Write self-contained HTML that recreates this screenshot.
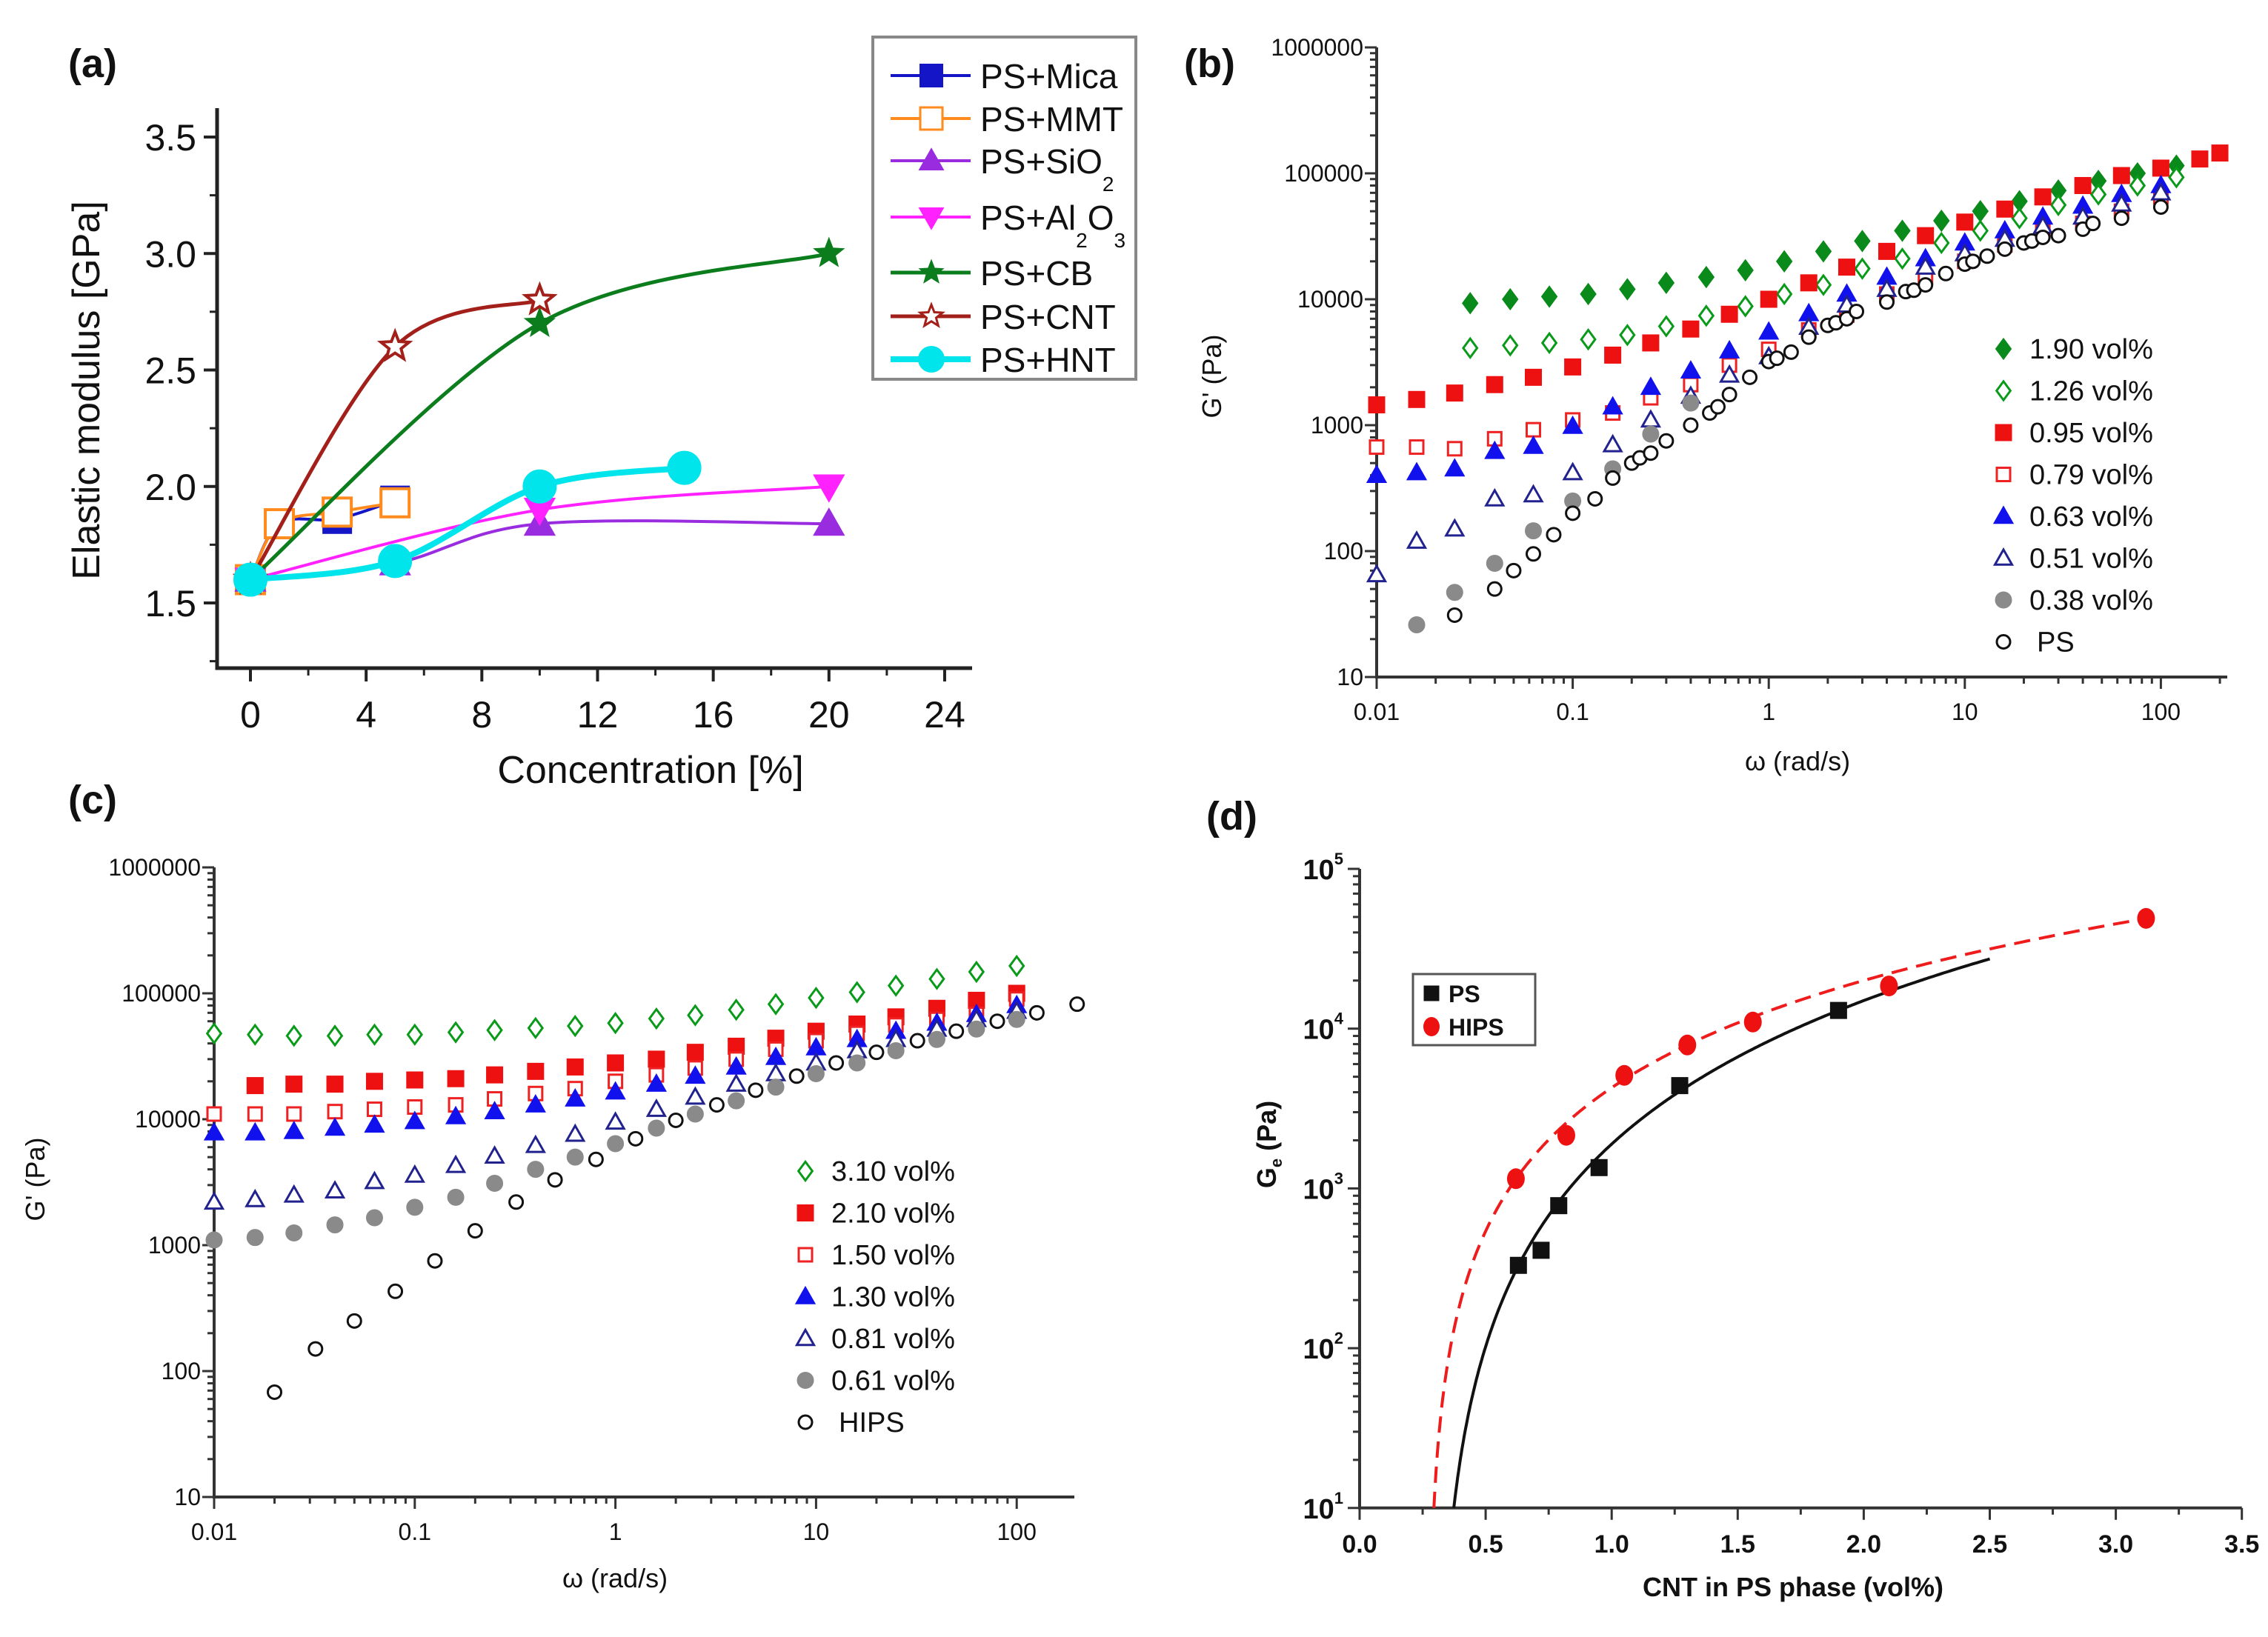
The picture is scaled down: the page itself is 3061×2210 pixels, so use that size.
<!DOCTYPE html>
<html><head><meta charset="utf-8"><style>
html,body{margin:0;padding:0;background:#fff}
svg{display:block}
text{font-family:"Liberation Sans",Arial,sans-serif;fill:#111}
</style></head><body>
<svg id="fig" width="3061" height="2210" viewBox="0 0 3061 2210" xmlns="http://www.w3.org/2000/svg">
<rect width="3061" height="2210" fill="#fff"/>
</svg>
<script>
// ---------- Panel (a) data ----------
const aMicaX=[0,1,3,5], aMicaY=[1.6,1.84,1.86,1.94];
const aMmtX=[0,1,3,5], aMmtY=[1.6,1.84,1.89,1.93];
const aSiX=[0,5,10,20], aSiY=[1.6,1.67,1.84,1.84];
const aAlX=[0,10,20], aAlY=[1.6,1.9,2.0];
const aCbX=[0,10,20], aCbY=[1.6,2.7,3.0];
const aCntX=[0,5,10], aCntY=[1.6,2.6,2.8];
const aHntX=[0,5,10,15], aHntY=[1.6,1.68,2.0,2.08];
const aXTicks=[0,4,8,12,16,20,24];
const aYTicks=[1.5,2.0,2.5,3.0,3.5];
const aYTickLabels=["1.5","2.0","2.5","3.0","3.5"];
const aLegendLabels=["PS+Mica","PS+MMT","PS+SiO2","PS+Al2O3","PS+CB","PS+CNT","PS+HNT"];
// ---------- Panel (b) data ----------
const bW1=[0.03,0.048,0.076,0.12,0.19,0.3,0.48,0.76,1.2,1.9,3,4.8,7.6,12,19,30,48,76,120];
const b190=[9300,10000,10500,11000,12000,13500,15000,17000,20000,24000,29000,35000,42000,50000,60000,73000,87000,100000,115000];
const b126=[4100,4300,4500,4800,5200,6100,7400,8800,11000,13000,17500,21000,28000,35000,44000,56000,68000,80000,93000];
const bW2=[0.01,0.016,0.025,0.04,0.063,0.1,0.16,0.25,0.4,0.63,1,1.6,2.5,4,6.3,10,16,25,40,63,100,158,200];
const b095=[1450,1600,1800,2100,2400,2900,3600,4500,5800,7600,10000,13500,18000,24000,32000,41000,52000,65000,80000,96000,110000,130000,145000];
const bW3=[0.01,0.016,0.025,0.04,0.063,0.1,0.16,0.25,0.4,0.63,1,1.6,2.5,4,6.3,10,16,25,40,63,100];
const b079=[670,670,650,780,920,1100,1250,1650,2100,3000,4000,5700,7500,11000,15000,20000,27000,35000,40000,50000,65000];
const b063=[400,420,450,620,680,980,1400,2000,2700,3900,5500,7700,11000,15000,21000,28000,35000,45000,55000,68000,80000];
const b051=[65,120,150,260,280,420,700,1100,1700,2500,3500,6000,9000,12000,18000,23000,30000,38000,45000,57000,70000];
const bW4=[0.016,0.025,0.04,0.063,0.1,0.16,0.25,0.4];
const b038=[26,47,80,145,250,450,850,1500];
const bW5=[0.025,0.04,0.05,0.063,0.08,0.1,0.13,0.16,0.2,0.22,0.25,0.3,0.4,0.5,0.55,0.63,0.8,1,1.1,1.3,1.6,2,2.2,2.5,2.8,4,5,5.5,6.3,8,10,11,13,16,20,22,25,30,40,45,63,100];
const bPS=[31,50,70,95,135,200,260,380,500,550,600,750,1000,1250,1400,1750,2400,3200,3400,3800,5000,6200,6500,7000,8000,9500,11500,11800,13000,16000,19000,20000,22000,25000,28000,29000,31000,32000,36000,40000,44000,54000];
const logYTicks=[10,100,1000,10000,100000,1000000];
const logYLabels=["10","100","1000","10000","100000","1000000"];
const logXTicks=[0.01,0.1,1,10,100];
const logXLabels=["0.01","0.1","1","10","100"];
const bLegend=["1.90 vol%","1.26 vol%","0.95 vol%","0.79 vol%","0.63 vol%","0.51 vol%","0.38 vol%","PS"];
// ---------- Panel (c) data ----------
const cW=[0.01,0.016,0.025,0.04,0.063,0.1,0.16,0.25,0.4,0.63,1,1.6,2.5,4,6.3,10,16,25,40,63,100];
const c310=[48000,47000,46000,46000,47000,47000,49000,51000,53000,55000,58000,63000,67000,74000,82000,92000,102000,115000,130000,148000,165000];
const cW2=[0.016,0.025,0.04,0.063,0.1,0.16,0.25,0.4,0.63,1,1.6,2.5,4,6.3,10,16,25,40,63,100];
const c210=[18500,19000,19000,20000,20500,21000,22500,24000,26000,28000,30000,34000,38000,44000,50000,57000,65000,76000,88000,100000];
const c150=[11000,11000,11000,11500,12000,12500,13000,14500,16000,17500,20000,22500,25500,30000,36000,42000,48000,56000,62000,68000,90000];
const c130=[7800,7800,8000,8500,9000,9600,10500,11500,13000,14500,16500,19000,22000,26000,31000,37000,43000,50000,58000,68000,80000];
const c081=[2200,2300,2500,2700,3200,3600,4300,5100,6200,7600,9500,12000,15000,19000,23000,28000,35000,43000,52000,62000,72000];
const c061=[1100,1150,1250,1450,1650,2000,2400,3100,4000,5000,6400,8500,11000,14000,18000,23000,28000,35000,43000,52000,62000];
const cWH=[0.02,0.032,0.05,0.08,0.126,0.2,0.32,0.5,0.8,1.26,2,3.2,5,8,12.6,20,32,50,80,126,200];
const cHIPS=[68,150,250,430,750,1300,2200,3300,4800,7000,9800,13000,17000,22000,28000,34000,42000,50000,60000,70000,82000];
const cLegend=["3.10 vol%","2.10 vol%","1.50 vol%","1.30 vol%","0.81 vol%","0.61 vol%","HIPS"];
// ---------- Panel (d) data ----------
const dPSX=[0.63,0.72,0.79,0.95,1.27,1.9], dPSY=[330,410,780,1350,4400,13000];
const dHX=[0.62,0.82,1.05,1.3,1.56,2.1,3.12], dHY=[1150,2150,5100,7900,11000,18500,49000];
const dPSFit=[4350,0.30,2.33,2.5];   // k, phi_c, t, end
const dHFit=[7500,0.27,1.79,3.12];
const dXTicks=[0,0.5,1,1.5,2,2.5,3,3.5];
const dXLabels=["0.0","0.5","1.0","1.5","2.0","2.5","3.0","3.5"];
const dYExp=[1,2,3,4,5];

const NS="http://www.w3.org/2000/svg";
const svg=document.getElementById('fig');
function el(tag,attrs,parent){const e=document.createElementNS(NS,tag);for(const k in attrs)e.setAttribute(k,attrs[k]);(parent||svg).appendChild(e);return e;}
function txt(s,x,y,size,anchor,parent,extra){const t=el('text',Object.assign({x:x,y:y,'font-size':size,'text-anchor':anchor||'middle'},extra||{}),parent);t.textContent=s;return t;}
function grp(name){const g=el('g',{});return g;}

function marker(g,shape,x,y,s,color,filled,sw){
  const f=filled?color:'#fff';const w=sw||Math.max(2,s*0.12);let e;
  const h=s/2;
  if(shape==='square')e=el('rect',{x:x-h,y:y-h,width:s,height:s,fill:f,stroke:color,'stroke-width':w},g);
  else if(shape==='circle')e=el('circle',{cx:x,cy:y,r:h,fill:f,stroke:color,'stroke-width':w},g);
  else if(shape==='diamond')e=el('polygon',{points:`${x},${y-h*1.15} ${x+h*0.85},${y} ${x},${y+h*1.15} ${x-h*0.85},${y}`,fill:f,stroke:color,'stroke-width':w},g);
  else if(shape==='tri')e=el('polygon',{points:`${x},${y-h*1.05} ${x+h*1.05},${y+h*0.8} ${x-h*1.05},${y+h*0.8}`,fill:f,stroke:color,'stroke-width':w},g);
  else if(shape==='dtri')e=el('polygon',{points:`${x},${y+h*1.05} ${x+h*1.05},${y-h*0.8} ${x-h*1.05},${y-h*0.8}`,fill:f,stroke:color,'stroke-width':w},g);
  else if(shape==='star'){let p=[];for(let i=0;i<10;i++){const r=i%2?h*0.45:h*1.05;const a=-Math.PI/2+i*Math.PI/5;p.push((x+r*Math.cos(a)).toFixed(1)+','+(y+r*Math.sin(a)).toFixed(1));}e=el('polygon',{points:p.join(' '),fill:f,stroke:color,'stroke-width':w},g);}
  
  
  return e;
}
function smoothPath(pts){
  if(pts.length<2)return '';
  let d=`M${pts[0][0]},${pts[0][1]}`;
  for(let i=0;i<pts.length-1;i++){
    const p0=pts[i-1]||pts[i],p1=pts[i],p2=pts[i+1],p3=pts[i+2]||p2;
    const c1=[p1[0]+(p2[0]-p0[0])/6,p1[1]+(p2[1]-p0[1])/6];
    const c2=[p2[0]-(p3[0]-p1[0])/6,p2[1]-(p3[1]-p1[1])/6];
    d+=` C${c1[0].toFixed(1)},${c1[1].toFixed(1)} ${c2[0].toFixed(1)},${c2[1].toFixed(1)} ${p2[0].toFixed(1)},${p2[1].toFixed(1)}`;
  }
  return d;
}

// ================= Panel (a) =================
(function(){
  const g=grp('panel-a');
  const X0=293,X1=1312,Y0=902,Y1=146;
  const xs=v=>338+v*39.04, ys=v=>814-(v-1.5)*314.5;
  txt('(a)',92,104,54,'start',g,{'font-weight':'bold'});
  const ax=el('path',{d:`M${X0},${Y1} V${Y0} H${X1}`,fill:'none',stroke:'#222','stroke-width':5},g);
  
  aXTicks.forEach(v=>{el('line',{x1:xs(v),x2:xs(v),y1:Y0,y2:Y0+18,stroke:'#222','stroke-width':4},g);
    if(xs(v+2)<X1)el('line',{x1:xs(v+2),x2:xs(v+2),y1:Y0,y2:Y0+10,stroke:'#222','stroke-width':3},g);
    const t=txt(String(v),xs(v),Y0+80,50,'middle',g);});
  aYTicks.forEach((v,i)=>{el('line',{x1:X0-18,x2:X0,y1:ys(v),y2:ys(v),stroke:'#222','stroke-width':4},g);
    el('line',{x1:X0-10,x2:X0,y1:ys(v-0.25),y2:ys(v-0.25),stroke:'#222','stroke-width':3},g);
    const t=txt(aYTickLabels[i],X0-28,ys(v)+18,50,'end',g);});
  const yl=txt('Elastic modulus [GPa]',0,0,52,'middle',g,{transform:'translate(134,527) rotate(-90)'});
  const xl=txt('Concentration [%]',878,1057,52,'middle',g);
  const series=[
    [aMicaX,aMicaY,'#1515c8','square',true,'series-mica',4],
    [aMmtX,aMmtY,'#ff8a1e','square',false,'series-mmt',4],
    [aSiX,aSiY,'#9a2ce0','tri',true,'series-sio2',4],
    [aAlX,aAlY,'#ff22ff','dtri',true,'series-al2o3',4],
    [aCbX,aCbY,'#0b7d1c','star',true,'series-cb',5],
    [aCntX,aCntY,'#a3201a','star',false,'series-cnt',5],
    [aHntX,aHntY,'#00e4ec','circle',true,'series-hnt',8]];
  series.forEach(s=>{
    const sg=el('g',{},g);
    
    
    const pts=s[0].map((v,i)=>[xs(v),ys(s[1][i])]);
    el('path',{d:smoothPath(pts),fill:'none',stroke:s[2],'stroke-width':s[6]},sg);
    pts.forEach(p=>marker(sg,s[3],p[0],p[1],s[3]==='circle'?44:38,s[2],s[4],s[4]?2:4));
  });
  const lg=el('g',{},g);
  
  
  el('rect',{x:1178,y:50,width:355,height:462,fill:'#fff',stroke:'#888','stroke-width':4},lg);
  const ly=[102,160,217,293,368,427,485];
  series.forEach((s,i)=>{
    const e=el('g',{},lg);
    
    
    el('line',{x1:1202,x2:1310,y1:ly[i],y2:ly[i],stroke:s[2],'stroke-width':s[6]},e);
    marker(e,s[3],1257,ly[i],s[3]==='circle'?34:30,s[2],s[4],s[4]?2:3);
    const t=el('text',{x:1323,y:ly[i]+17,'font-size':46},e);
    const lab=aLegendLabels[i];
    if(lab==='PS+SiO2'){t.textContent='PS+SiO';const sb=el('tspan',{'font-size':28,dy:24},t);sb.textContent='2';}
    else if(lab==='PS+Al2O3'){t.textContent='PS+Al';const a=el('tspan',{'font-size':28,dy:24},t);a.textContent='2';const b=el('tspan',{dy:-24},t);b.textContent='O';const c=el('tspan',{'font-size':28,dy:24},t);c.textContent='3';}
    else t.textContent=lab;
  });
})();

// ============ log panels (b) and (c) ============
function logPanel(name,label,labPos,ox,decX,oy,decY,rightX,legendX,legendY0,legendStep,legendTexts,series,yTitlePos,xTitlePos){
  const g=grp(name);
  const xs=v=>ox+Math.log10(v/0.01)*decX, ys=v=>oy+(6-Math.log10(v))*decY;
  const Y0=ys(10),Y1=ys(1e6);
  const L=txt(label,labPos[0],labPos[1],54,'start',g,{'font-weight':'bold'});
  el('path',{d:`M${ox},${Y1} V${Y0} H${rightX}`,fill:'none',stroke:'#333','stroke-width':4},g);
  for(let d=-2;d<=2;d++){for(let m=1;m<10;m++){const v=m*Math.pow(10,d);const x=xs(v);if(x>rightX+1)break;
    el('line',{x1:x,x2:x,y1:Y0,y2:Y0+(m===1?16:9),stroke:'#333','stroke-width':3},g);}}
  for(let d=1;d<=6;d++){for(let m=1;m<10;m++){const v=m*Math.pow(10,d);if(v>1e6)break;const y=ys(v);
    el('line',{x1:ox-(m===1?16:9),x2:ox,y1:y,y2:y,stroke:'#333','stroke-width':3},g);}}
  logXTicks.forEach((v,i)=>{const t=txt(logXLabels[i],xs(v),Y0+58,32,'middle',g,{fill:'#333'});});
  logYTicks.forEach((v,i)=>{const t=txt(logYLabels[i],ox-18,ys(v)+11,32,'end',g,{fill:'#333'});});
  const yt=txt("G' (Pa)",0,0,36,'middle',g,{transform:`translate(${yTitlePos[0]},${yTitlePos[1]}) rotate(-90)`,fill:'#333'});
  const xt=txt('ω (rad/s)',xTitlePos[0],xTitlePos[1],36,'middle',g,{fill:'#333'});
  series.forEach((s,i)=>{
    const sg=el('g',{},g);
    
    
    s[0].forEach((w,j)=>{const x=xs(w);if(x>rightX+4)return;marker(sg,s[2],x,ys(s[1][j]),s[5]||22,s[3],s[4],3);});
    const e=el('g',{},g);
    
    
    const y=legendY0+i*legendStep;
    marker(e,s[2],legendX,y,s[5]||22,s[3],s[4],3);
    txt(legendTexts[i],legendX+(legendTexts[i].match(/PS/)?45:35),y+13,38,'start',e,{fill:'#333'});
  });
}
logPanel('panel-b','(b)',[1598,104],1858,264.6,64,170,3006,2704,471,56.5,bLegend,[
  [bW1,b190,'diamond','#0a8a1a',true],
  [bW1,b126,'diamond','#0a9a1a',false],
  [bW2,b095,'square','#ee1111',true,20],
  [bW3,b079,'square','#ee2222',false,18],
  [bW3,b063,'tri','#1111ee',true],
  [bW3,b051,'tri','#22228f',false],
  [bW4,b038,'circle','#8a8a8a',true,20],
  [bW5,bPS,'circle','#111',false,18]],[1648,508],[2426,1040]);
logPanel('panel-c','(c)',[92,1098],289,270.8,1171,170,1450,1087,1581,56.5,cLegend,[
  [cW,c310,'diamond','#0a9a1a',false],
  [cW2,c210,'square','#ee1111',true,20],
  [cW,c150,'square','#ee2222',false,18],
  [cW,c130,'tri','#1111ee',true],
  [cW,c081,'tri','#22228f',false],
  [cW,c061,'circle','#8a8a8a',true,20],
  [cWH,cHIPS,'circle','#111',false,18]],[60,1592],[830,2143]);

// ================= Panel (d) =================
(function(){
  const g=grp('panel-d');
  const ox=1835,ux=340.2,top=1173,dec=215.7;
  const xs=v=>ox+v*ux, ys=v=>top+(5-Math.log10(v))*dec;
  const Y0=ys(10),X1=xs(3.5);
  txt('(d)',1628,1120,54,'start',g,{'font-weight':'bold'});
  el('path',{d:`M${ox},${ys(1e5)} V${Y0} H${X1}`,fill:'none',stroke:'#333','stroke-width':4},g);
  dXTicks.forEach((v,i)=>{el('line',{x1:xs(v),x2:xs(v),y1:Y0,y2:Y0+16,stroke:'#333','stroke-width':3},g);
    if(v<3.5)el('line',{x1:xs(v+0.25),x2:xs(v+0.25),y1:Y0,y2:Y0+9,stroke:'#333','stroke-width':3},g);
    const t=txt(dXLabels[i],xs(v),Y0+60,34,'middle',g,{'font-weight':'bold',fill:'#333'});});
  dYExp.forEach(e=>{for(let m=1;m<10;m++){const v=m*Math.pow(10,e);if(v>1e5)break;const y=ys(v);
      el('line',{x1:ox-(m===1?16:9),x2:ox,y1:y,y2:y,stroke:'#333','stroke-width':3},g);}
    const t=el('text',{x:ox-22,y:ys(Math.pow(10,e))+14,'font-size':38,'text-anchor':'end','font-weight':'bold',fill:'#333'},g);
    
    t.textContent='10';const s=el('tspan',{'font-size':22,dy:-20},t);s.textContent=String(e);});
  const yt=el('text',{transform:'translate(1722,1545) rotate(-90)','font-size':36,'font-weight':'bold','text-anchor':'middle',fill:'#333'},g);
  
  yt.textContent='G';const ys1=el('tspan',{'font-size':22,dy:8},yt);ys1.textContent='e';const ys2=el('tspan',{dy:-8},yt);ys2.textContent=' (Pa)';
  const xt=txt('CNT in PS phase (vol%)',2420,2155,36,'middle',g,{'font-weight':'bold',fill:'#333'});
  function fit(p,dash,color,name){const pts=[];
    for(let i=0;i<=400;i++){const phi=p[1]+(p[3]-p[1])*Math.pow(i/400,1.6);const v=p[0]*Math.pow(Math.max(phi-p[1],1e-9),p[2]);if(v<10)continue;pts.push(xs(phi).toFixed(1)+','+ys(v).toFixed(1));}
    const phi10=p[1]+Math.pow(10/p[0],1/p[2]);pts.unshift(xs(phi10).toFixed(1)+','+Y0);
    const e=el('polyline',{points:pts.join(' '),fill:'none',stroke:color,'stroke-width':4,'stroke-dasharray':dash},g);
    }
  fit(dHFit,'22 12','#ee1c1c','fit-hips');
  fit(dPSFit,'none','#111','fit-ps');
  const sp=el('g',{},g);
  dPSX.forEach((v,i)=>marker(sp,'square',xs(v),ys(dPSY[i]),22,'#111',true,1));
  const sh=el('g',{},g);
  dHX.forEach((v,i)=>{const c=el('ellipse',{cx:xs(v),cy:ys(dHY[i]),rx:12,ry:14,fill:'#ee1111'},sh);});
  const lg=el('g',{},g);
  el('rect',{x:1907,y:1315,width:165,height:96,fill:'#fff',stroke:'#555','stroke-width':3},lg);
  marker(lg,'square',1932,1341,20,'#111',true,1);
  txt('PS',1955,1353,32,'start',lg,{'font-weight':'bold'});
  el('ellipse',{cx:1932,cy:1386,rx:11,ry:13,fill:'#ee1111'},lg);
  txt('HIPS',1955,1398,32,'start',lg,{'font-weight':'bold'});
})();
</script>
</body></html>
